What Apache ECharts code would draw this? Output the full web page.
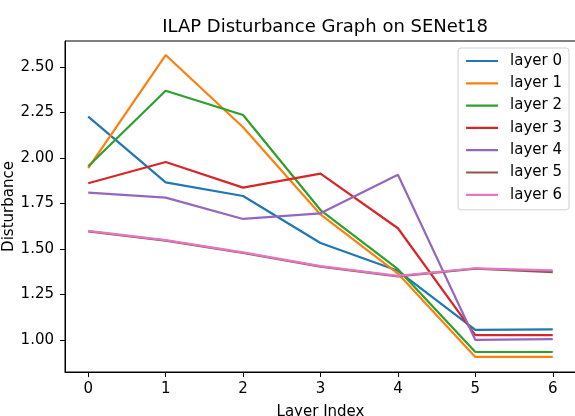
<!DOCTYPE html>
<html><head><meta charset="utf-8">
<script src="https://cdn.jsdelivr.net/npm/echarts@6/dist/echarts.min.js"></script>
<style>html,body{margin:0;padding:0;background:#fff}#c{width:575px;height:416px}</style>
</head><body><div id="c"></div>
<script>
var xValues = [0, 1, 2, 3, 4, 5, 6];
var xTicks = [0, 1, 2, 3, 4, 5, 6];
var yTicks = [1.00, 1.25, 1.50, 1.75, 2.00, 2.25, 2.50];
var layerNames = ['layer 0', 'layer 1', 'layer 2', 'layer 3', 'layer 4', 'layer 5', 'layer 6'];
var layer0 = [2.227, 1.866, 1.791, 1.533, 1.380, 1.055, 1.058];
var layer1 = [1.945, 2.566, 2.169, 1.690, 1.365, 0.907, 0.907];
var layer2 = [1.955, 2.370, 2.236, 1.714, 1.389, 0.934, 0.934];
var layer3 = [1.861, 1.978, 1.837, 1.914, 1.614, 1.027, 1.027];
var layer4 = [1.810, 1.782, 1.665, 1.696, 1.908, 1.000, 1.005];
var layer5 = [1.597, 1.546, 1.478, 1.403, 1.350, 1.392, 1.373];
var layer6 = [1.600, 1.549, 1.481, 1.406, 1.352, 1.394, 1.382];
var colors = ['#1f77b4', '#ff7f0e', '#2ca02c', '#d62728', '#9467bd', '#8c564b', '#e377c2'];

var all = [layer0, layer1, layer2, layer3, layer4, layer5, layer6];
var font = 'DejaVu Sans';
var chart = echarts.init(document.getElementById('c'), null, {renderer: 'canvas'});
chart.setOption({
  animation: false,
  backgroundColor: '#fff',
  color: colors,
  title: {
    text: 'ILAP Disturbance Graph on SENet18',
    left: 320, top: 13, textAlign: 'center',
    textStyle: {fontFamily: font, fontSize: 18, fontWeight: 'normal', color: '#000'}
  },
  legend: {
    orient: 'vertical', right: 6, top: 48,
    data: layerNames,
    icon: 'rect', itemWidth: 32, itemHeight: 2.2,
    itemGap: 7.3,
    padding: [5.5, 7, 7.5, 8],
    borderColor: '#d0d0d0', borderWidth: 1, borderRadius: 3,
    backgroundColor: 'rgba(255,255,255,0.8)',
    textStyle: {fontFamily: font, fontSize: 15, color: '#000', padding: [0, 0, 0, 7]}
  },
  grid: {left: 65, top: 41, width: 511, height: 331, outerBoundsMode: 'none', containLabel: false,
    show: true, borderColor: '#000', borderWidth: 1},
  xAxis: {
    type: 'value', min: -0.3, max: 6.3,
    name: 'Layer Index', nameLocation: 'middle', nameGap: 33, nameMoveOverlap: false,
    nameTextStyle: {fontFamily: font, fontSize: 15, color: '#000'},
    axisLine: {show: true, onZero: false, lineStyle: {color: '#000', width: 1}},
    axisTick: {show: true, customValues: xTicks, length: 5, lineStyle: {color: '#000'}},
    axisLabel: {customValues: xTicks, fontFamily: font, fontSize: 15, color: '#000', margin: 10},
    splitLine: {show: false}
  },
  yAxis: {
    type: 'value', min: 0.824, max: 2.643,
    name: 'Disturbance', nameLocation: 'middle', nameGap: 48, nameMoveOverlap: false,
    nameTextStyle: {fontFamily: font, fontSize: 15, color: '#000'},
    axisLine: {show: true, onZero: false, lineStyle: {color: '#000', width: 1}},
    axisTick: {show: true, customValues: yTicks, length: 5, lineStyle: {color: '#000'}},
    axisLabel: {customValues: yTicks, fontFamily: font, fontSize: 15, color: '#000', margin: 11,
      formatter: function (v) { return v.toFixed(2); }},
    splitLine: {show: false}
  },
  series: all.map(function (arr, i) {
    return {
      name: layerNames[i], type: 'line', showSymbol: false, symbol: 'none',
      lineStyle: {width: 2.2, color: colors[i]},
      data: xValues.map(function (x, j) { return [x, arr[j]]; })
    };
  })
});
</script></body></html>
